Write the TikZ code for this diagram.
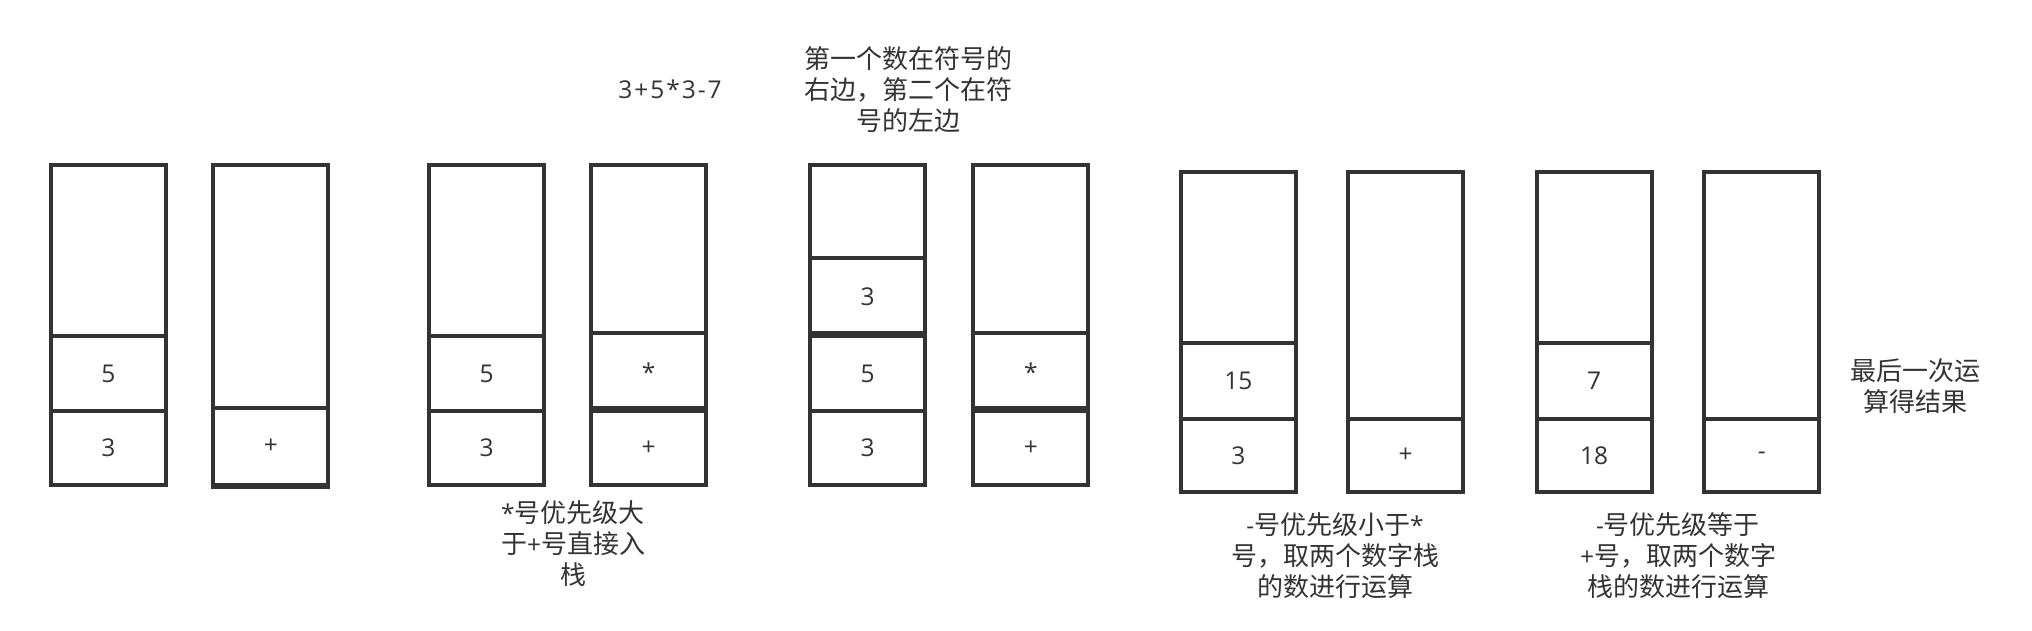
\documentclass[tikz,border=0pt]{standalone}
\usepackage{fontspec}
\setmainfont{Noto Sans CJK SC}
\newfontfamily\latf{Open Sans}
\newfontfamily\latfs[LetterSpace=8]{Open Sans}
\newcommand\lt[1]{{\latf\fontsize{24.5}{31}\selectfont #1}}
\definecolor{linec}{HTML}{333333}
\definecolor{textc}{HTML}{333333}
\tikzset{
  cell/.style={draw=linec, line width=4pt, minimum width=115pt, inner sep=0pt, text=textc, font=\latf\fontsize{24.5}{31}\selectfont},
  note/.style={text=textc, align=center, inner sep=0pt, font=\fontsize{26}{31}\selectfont},
  thickline/.style={draw=linec, line width=6.5pt}
}
\newcommand\stkcell[5]{\node[cell, minimum height={(#4-#3)*1pt}] (#1) at ({#2},{(#3+#4)/2}) {#5};}
\begin{document}
\begin{tikzpicture}[x=1pt,y=-1pt]
\useasboundingbox[fill=white] (0,0) rectangle (2032,631);
% group 1
\stkcell{a0}{108.5}{165}{336}{}
\stkcell{a1}{108.5}{336}{411}{5}
\stkcell{a2}{108.5}{411}{485}{3}
\stkcell{b0}{270.9}{165}{408}{}
\stkcell{b1}{270.9}{408}{485}{+}
\draw[thickline] ([yshift=0.8pt]b1.south west) -- ([yshift=0.8pt]b1.south east);
% group 2
\stkcell{c0}{486.6}{165}{336}{}
\stkcell{c1}{486.6}{336}{411}{5}
\stkcell{c2}{486.6}{411}{485}{3}
\stkcell{d0}{648.6}{165}{333}{}
\stkcell{d1}{648.6}{333}{411}{*}
\stkcell{d2}{648.6}{411}{485}{+}
\draw[thickline] (d2.north west) -- (d2.north east);
% group 3
\stkcell{e0}{867.6}{165}{258}{}
\stkcell{e1}{867.6}{258}{336}{3}
\stkcell{e2}{867.6}{336}{411}{5}
\stkcell{e3}{867.6}{411}{485}{3}
\draw[thickline] (e2.north west) -- (e2.north east);
\stkcell{f0}{1030.9}{165}{333}{}
\stkcell{f1}{1030.9}{333}{411}{*}
\stkcell{f2}{1030.9}{411}{485}{+}
\draw[thickline] (f2.north west) -- (f2.north east);
% group 4
\stkcell{g0}{1238.3}{172}{343}{}
\stkcell{g1}{1238.3}{343}{419}{15}
\stkcell{g2}{1238.3}{419}{492}{3}
\stkcell{h0}{1405.5}{172}{419}{}
\stkcell{h1}{1405.5}{419}{492}{+}
% group 5
\stkcell{i0}{1594}{172}{343}{}
\stkcell{i1}{1594}{343}{419}{7}
\stkcell{i2}{1594}{419}{492}{18}
\stkcell{j0}{1761.9}{172}{419}{}
\stkcell{j1}{1761.9}{419}{492}{-}
% notes
\node[note] (expr) at (670,89) {{\latfs\fontsize{24.5}{31}\selectfont 3+5*3-7}};
\node[note] (n2) at (573,544) {\lt{*}号优先级大\\于\lt{+}号直接入\\栈};
\node[note] (n3) at (908,90) {第一个数在符号的\\右边，第二个在符\\号的左边};
\node[note] (n4) at (1335,556) {\lt{-}号优先级小于\lt{*}\\号，取两个数字栈\\的数进行运算};
\node[note] (n5) at (1678,556) {\lt{-}号优先级等于\\\lt{+}号，取两个数字\\栈的数进行运算};
\node[note] (n6) at (1915,386) {最后一次运\\算得结果};
\end{tikzpicture}
\end{document}
